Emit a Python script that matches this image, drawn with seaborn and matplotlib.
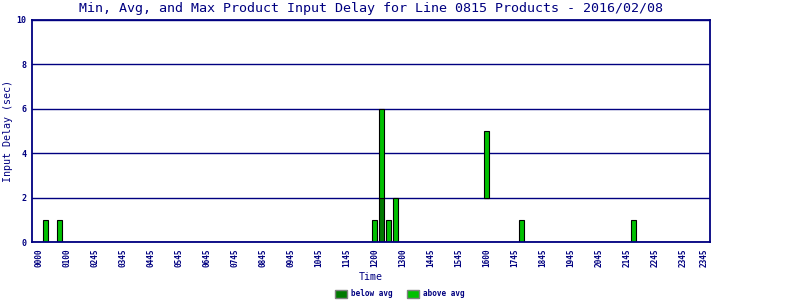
import matplotlib
matplotlib.use("Agg")
import matplotlib.pyplot as plt
import seaborn as sns
import pandas as pd
from matplotlib.patches import Patch

# ---- data ----
slots = ["0015", "0045", "1200", "1215", "1230", "1245", "1600", "1715", "2115"]
min_delay = [0, 0, 0, 0, 0, 0, 2, 0, 0]
avg_delay = [0, 0, 0, 2, 0, 0, 2, 0, 0]
max_delay = [1, 1, 1, 6, 1, 2, 5, 1, 1]

tick_labels = ["0000", "0100", "0245", "0345", "0445", "0545", "0645", "0745",
               "0845", "0945", "1045", "1145", "1200", "1300", "1445", "1545",
               "1600", "1745", "1845", "1945", "2045", "2145", "2245", "2345",
               "2345"]
tick_hours = list(range(24)) + [23.75]
y_ticks = [0, 2, 4, 6, 8, 10]

title = "Min, Avg, and Max Product Input Delay for Line 0815 Products - 2016/02/08"

navy = "#000080"
below_c = "#007a00"
above_c = "#00c000"

df = pd.DataFrame({
    "hour": [int(s[:2]) + int(s[2:]) / 60 for s in slots],
    "min": min_delay, "avg": avg_delay, "max": max_delay,
})
df["below"] = df["avg"] - df["min"]
df["above"] = df["max"] - df["avg"]

sns.set_theme(style="white")
plt.rcParams["font.family"] = ["DejaVu Sans Mono", "DejaVu Sans"]

fig = plt.figure(figsize=(8, 3), dpi=100)
ax = fig.add_axes([32 / 800, 1 - 242 / 300, 678 / 800, 222 / 300])

common = dict(x="hour", native_scale=True, width=0.72, saturation=1,
              edgecolor="black", linewidth=0.8, errorbar=None, ax=ax, zorder=3)
sns.barplot(data=df, y="below", color=below_c, bottom=df["min"].tolist(), **common)
sns.barplot(data=df, y="above", color=above_c, bottom=df["avg"].tolist(), **common)

ax.set_xlim(-0.24, 23.97)
ax.set_ylim(0, 10)
ax.set_yticks(y_ticks)
ax.set_xticks(tick_hours)
ax.set_xticklabels(tick_labels, rotation=90)
ax.tick_params(axis="x", length=0, colors=navy, labelsize=5.6, pad=5)
ax.tick_params(axis="y", length=0, colors=navy, labelsize=6, pad=4)
for lab in ax.get_xticklabels() + ax.get_yticklabels():
    lab.set_fontweight("bold")

ax.yaxis.grid(True, color=navy, linewidth=1)
ax.xaxis.grid(False)
ax.set_axisbelow(True)
for sp in ax.spines.values():
    sp.set_color(navy)
    sp.set_linewidth(1.3)
    sp.set_zorder(4)

ax.set_title(title, fontsize=9.6, color=navy, pad=5.5)
ax.set_ylabel("Input Delay (sec)", fontsize=7.2, color=navy)
ax.yaxis.label.set_va("center")
ax.yaxis.set_label_coords((8 - 32) / 678, 0.5)
ax.set_xlabel("Time", fontsize=7.2, color=navy)
ax.xaxis.label.set_va("center")
ax.xaxis.set_label_coords(0.5, -(277 - 242) / 222)

handles = [Patch(facecolor=below_c, edgecolor="#808080", label="below avg"),
           Patch(facecolor=above_c, edgecolor="#808080", label="above avg")]
leg = fig.legend(handles=handles, loc="center", bbox_to_anchor=(400 / 800, 1 - 294 / 300),
                 ncol=2, frameon=False, fontsize=5.5, handlelength=1.6, handleheight=1.1,
                 handletextpad=0.5, columnspacing=1.9, borderpad=0)
for t in leg.get_texts():
    t.set_color(navy)
    t.set_fontweight("bold")

fig.savefig("out.png", dpi=100, facecolor="white")
